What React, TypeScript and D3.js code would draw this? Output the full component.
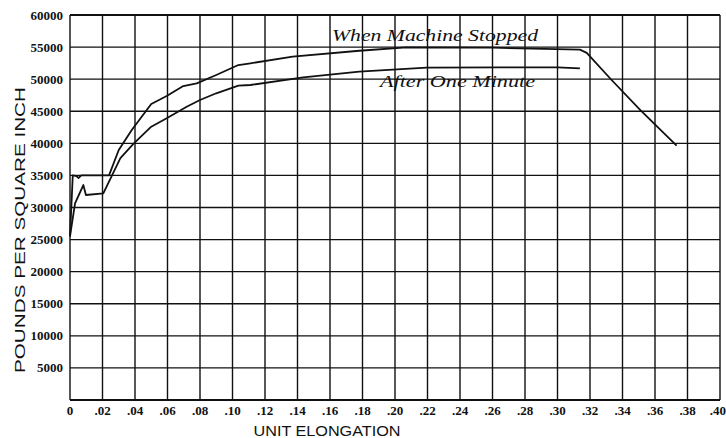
import React from "react";
import * as d3 from "d3";

const W = 726;
const H = 438;

const xTicks = [0, 0.02, 0.04, 0.06, 0.08, 0.1, 0.12, 0.14, 0.16, 0.18, 0.2, 0.22, 0.24, 0.26, 0.28, 0.3, 0.32, 0.34, 0.36, 0.38, 0.4];
const xTickLabels = ["0", ".02", ".04", ".06", ".08", ".10", ".12", ".14", ".16", ".18", ".20", ".22", ".24", ".26", ".28", ".30", ".32", ".34", ".36", ".38", ".40"];
const yTicks = [5000, 10000, 15000, 20000, 25000, 30000, 35000, 40000, 45000, 50000, 55000, 60000];
const yTickLabels = ["5000", "10000", "15000", "20000", "25000", "30000", "35000", "40000", "45000", "50000", "55000", "60000"];

// When Machine Stopped
const stoppedX = [0, 0.0017, 0.004, 0.0052, 0.007, 0.024, 0.030, 0.038, 0.050, 0.0595, 0.0697, 0.078, 0.090, 0.1036, 0.111, 0.137, 0.178, 0.207, 0.26, 0.3138, 0.318, 0.3333, 0.351, 0.3733];
const stoppedY = [25500, 35000, 34900, 34600, 35000, 35000, 38960, 42080, 46130, 47380, 48930, 49350, 50650, 52200, 52470, 53500, 54430, 54950, 54900, 54600, 54100, 49870, 45190, 39630];

// After One Minute
const minuteX = [0, 0.0031, 0.0082, 0.0098, 0.0205, 0.031, 0.039, 0.050, 0.0595, 0.0718, 0.080, 0.090, 0.1036, 0.111, 0.1436, 0.178, 0.2195, 0.2646, 0.30, 0.3138];
const minuteY = [25500, 30650, 33500, 31950, 32200, 37700, 39900, 42590, 43900, 45710, 46750, 47800, 48980, 49090, 50290, 51160, 51790, 51840, 51850, 51690];

export default function App() {
  const x = d3.scaleLinear().domain([0, 0.4]).range([70, 720]);
  const y = d3.scaleLinear().domain([0, 60000]).range([400, 15]);
  const line = d3
    .line<[number, number]>()
    .x((d) => x(d[0]))
    .y((d) => y(d[1]));
  const stopped = stoppedX.map((v, i) => [v, stoppedY[i]] as [number, number]);
  const minute = minuteX.map((v, i) => [v, minuteY[i]] as [number, number]);
  const serif = "'Liberation Serif', 'DejaVu Serif', serif";
  const sans = "'Liberation Sans', Arial, sans-serif";
  const last = xTicks.length - 1;

  return (
    <svg width={W} height={H} style={{ position: "absolute", left: 0, top: 0, background: "#fff" }}>
      <rect x={0} y={0} width={W} height={H} fill="#fff" />
      {/* vertical grid */}
      {xTicks.map((t, i) => (
        <line key={"vx" + i} x1={x(t)} x2={x(t)} y1={y(0)} y2={y(60000)} stroke="#111" strokeWidth={1.4} />
      ))}
      {/* horizontal grid */}
      {[0, ...yTicks].map((t, i) => (
        <line key={"hy" + i} x1={x(0)} x2={x(0.4)} y1={y(t)} y2={y(t)} stroke="#111" strokeWidth={t === 60000 || t === 0 ? 2 : 1.4} />
      ))}
      {/* curves */}
      <path d={line(stopped) || ""} fill="none" stroke="#111" strokeWidth={1.8} strokeLinejoin="round" />
      <path d={line(minute) || ""} fill="none" stroke="#111" strokeWidth={1.8} strokeLinejoin="round" />
      {/* curve labels */}
      <text x={332} y={40.5} fontFamily={serif} fontStyle="italic" fontSize={16.5} fill="#111" textLength={206} lengthAdjust="spacingAndGlyphs">
        When Machine Stopped
      </text>
      <text x={380} y={86.5} fontFamily={serif} fontStyle="italic" fontSize={16.5} fill="#111" textLength={155} lengthAdjust="spacingAndGlyphs">
        After One Minute
      </text>
      {/* y tick labels */}
      {yTicks.map((t, i) => (
        <text key={"yl" + i} x={63} y={y(t) + 4.5} textAnchor="end" fontFamily={serif} fontWeight="bold" fontSize={13} fill="#111">
          {yTickLabels[i]}
        </text>
      ))}
      {/* x tick labels */}
      {xTicks.map((t, i) => (
        <text
          key={"xl" + i}
          x={i === last ? 726 : x(t)}
          y={415}
          textAnchor={i === last ? "end" : "middle"}
          fontFamily={serif}
          fontWeight="bold"
          fontSize={13}
          fill="#111"
        >
          {xTickLabels[i]}
        </text>
      ))}
      {/* axis titles */}
      <text x={327} y={436} textAnchor="middle" fontFamily={sans} fontSize={14} fill="#111" textLength={147} lengthAdjust="spacingAndGlyphs">
        UNIT ELONGATION
      </text>
      <text transform="translate(25,230) rotate(-90)" textAnchor="middle" fontFamily={sans} fontSize={15} fill="#111" textLength={286} lengthAdjust="spacingAndGlyphs">
        POUNDS PER SQUARE INCH
      </text>
    </svg>
  );
}
